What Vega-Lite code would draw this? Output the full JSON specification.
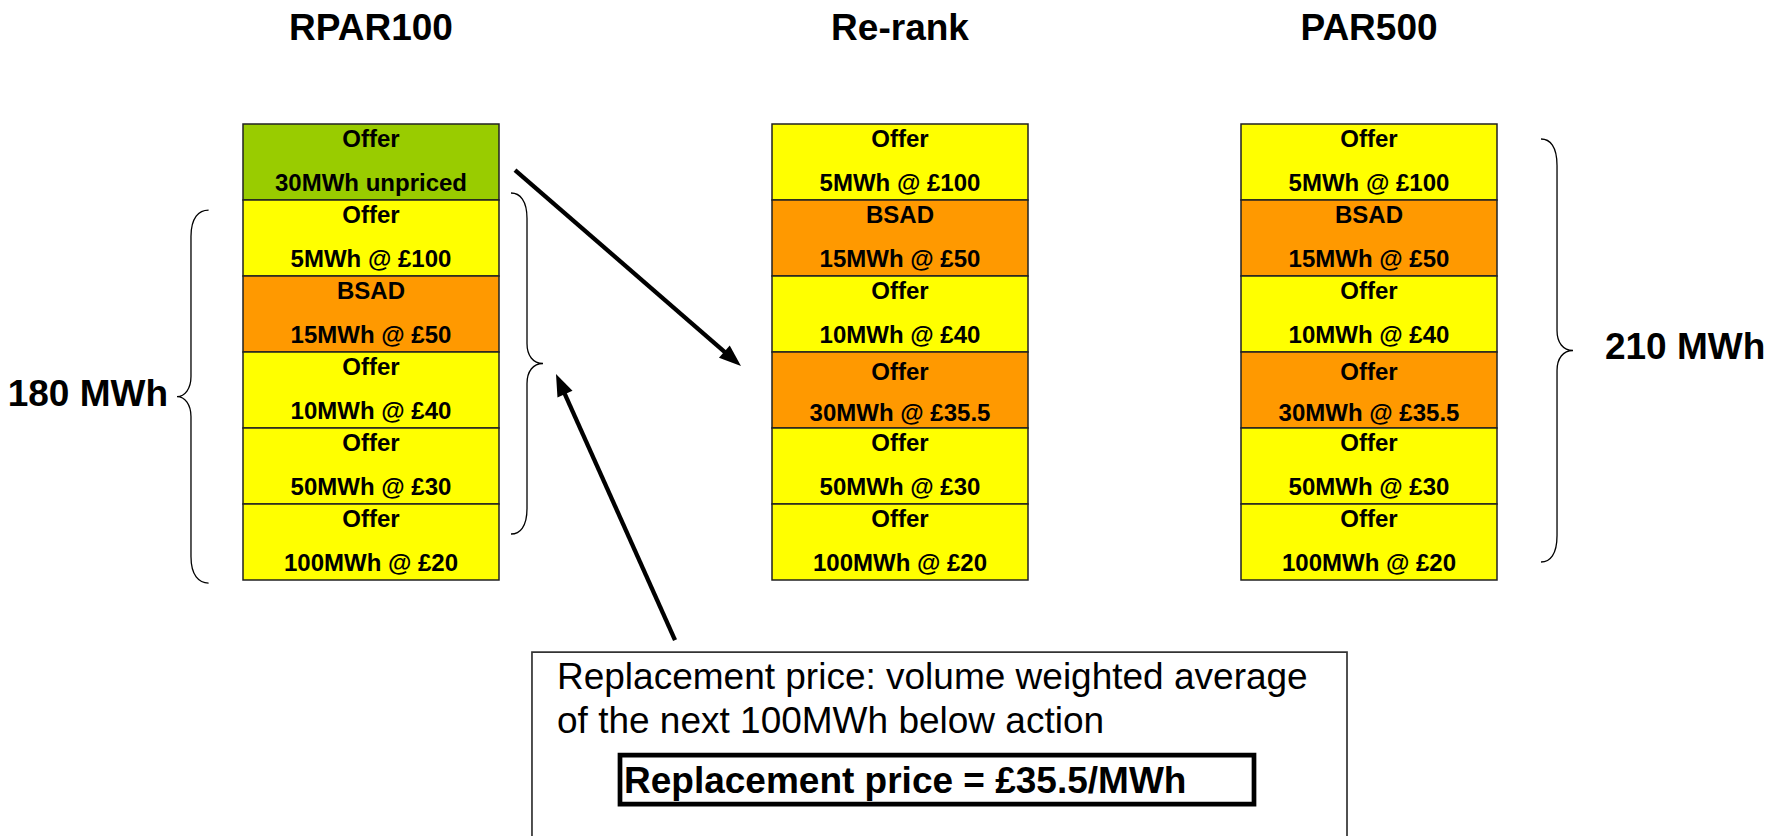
{
  "$schema": "https://vega.github.io/schema/vega-lite/v6.json",
  "width": 1770,
  "height": 836,
  "autosize": {"type": "fit", "contains": "padding"},
  "padding": 0,
  "background": "white",
  "config": {"view": {"stroke": null}, "font": "Liberation Sans"},
  "datasets": {
    "stacks": [
      {"stack": "RPAR100", "col": 1, "rank": 6, "type": "Offer", "volume": 30, "price": null, "label": "30MWh unpriced", "status": "Unpriced"},
      {"stack": "RPAR100", "col": 1, "rank": 5, "type": "Offer", "volume": 5, "price": 100, "label": "5MWh @ £100", "status": "Priced"},
      {"stack": "RPAR100", "col": 1, "rank": 4, "type": "BSAD", "volume": 15, "price": 50, "label": "15MWh @ £50", "status": "BSAD"},
      {"stack": "RPAR100", "col": 1, "rank": 3, "type": "Offer", "volume": 10, "price": 40, "label": "10MWh @ £40", "status": "Priced"},
      {"stack": "RPAR100", "col": 1, "rank": 2, "type": "Offer", "volume": 50, "price": 30, "label": "50MWh @ £30", "status": "Priced"},
      {"stack": "RPAR100", "col": 1, "rank": 1, "type": "Offer", "volume": 100, "price": 20, "label": "100MWh @ £20", "status": "Priced"},
      {"stack": "Re-rank", "col": 2, "rank": 6, "type": "Offer", "volume": 5, "price": 100, "label": "5MWh @ £100", "status": "Priced"},
      {"stack": "Re-rank", "col": 2, "rank": 5, "type": "BSAD", "volume": 15, "price": 50, "label": "15MWh @ £50", "status": "BSAD"},
      {"stack": "Re-rank", "col": 2, "rank": 4, "type": "Offer", "volume": 10, "price": 40, "label": "10MWh @ £40", "status": "Priced"},
      {"stack": "Re-rank", "col": 2, "rank": 3, "type": "Offer", "volume": 30, "price": 35.5, "label": "30MWh @ £35.5", "status": "Repriced"},
      {"stack": "Re-rank", "col": 2, "rank": 2, "type": "Offer", "volume": 50, "price": 30, "label": "50MWh @ £30", "status": "Priced"},
      {"stack": "Re-rank", "col": 2, "rank": 1, "type": "Offer", "volume": 100, "price": 20, "label": "100MWh @ £20", "status": "Priced"},
      {"stack": "PAR500", "col": 3, "rank": 6, "type": "Offer", "volume": 5, "price": 100, "label": "5MWh @ £100", "status": "Priced"},
      {"stack": "PAR500", "col": 3, "rank": 5, "type": "BSAD", "volume": 15, "price": 50, "label": "15MWh @ £50", "status": "BSAD"},
      {"stack": "PAR500", "col": 3, "rank": 4, "type": "Offer", "volume": 10, "price": 40, "label": "10MWh @ £40", "status": "Priced"},
      {"stack": "PAR500", "col": 3, "rank": 3, "type": "Offer", "volume": 30, "price": 35.5, "label": "30MWh @ £35.5", "status": "Repriced"},
      {"stack": "PAR500", "col": 3, "rank": 2, "type": "Offer", "volume": 50, "price": 30, "label": "50MWh @ £30", "status": "Priced"},
      {"stack": "PAR500", "col": 3, "rank": 1, "type": "Offer", "volume": 100, "price": 20, "label": "100MWh @ £20", "status": "Priced"}
    ],
    "braces": [
      {"brace": "180 MWh", "col": 0.6597, "rank": 2.914},
      {"brace": "100 MWh below action", "col": 1.2949, "rank": 3.349},
      {"brace": "210 MWh", "col": 3.4009, "rank": 3.52}
    ],
    "arrows": [
      {"arrow": "re-rank", "col": 1.2722, "rank": 5.8947},
      {"arrow": "re-rank", "col": 1.6711, "rank": 3.4868},
      {"arrow": "replacement", "col": 1.5747, "rank": -0.2895},
      {"arrow": "replacement", "col": 1.3648, "rank": 2.9737}
    ],
    "heads": [
      {"arrow": "re-rank", "col": 1.6994, "rank": 3.3158},
      {"arrow": "replacement", "col": 1.3497, "rank": 3.2105}
    ]
  },
  "encoding": {
    "x": {"field": "col", "type": "quantitative", "scale": {"domain": [1, 2, 3], "range": [371, 900, 1369], "zero": false, "nice": false}, "axis": null},
    "y": {"field": "rank", "type": "quantitative", "scale": {"domain": [-2.868, 8.132], "zero": false, "nice": false}, "axis": null}
  },
  "layer": [
    {
      "data": {"values": [{"note": "outer", "col": 1.3043, "col2": 2.9531, "rank": -0.4474, "rank2": -3.2}]},
      "mark": {"type": "rect", "fill": "white", "stroke": "#333333", "strokeWidth": 1.7, "clip": true},
      "encoding": {"x2": {"field": "col2"}, "y2": {"field": "rank2"}}
    },
    {
      "data": {"values": [{"note": "inner", "col": 1.4707, "col2": 2.7548, "rank": -1.8026, "rank2": -2.4474}]},
      "mark": {"type": "rect", "fill": "white", "stroke": "black", "strokeWidth": 4.7},
      "encoding": {"x2": {"field": "col2"}, "y2": {"field": "rank2"}}
    },
    {
      "data": {"name": "stacks"},
      "mark": {"type": "rect", "width": 256, "height": 76, "stroke": "#222222", "strokeWidth": 1.5},
      "encoding": {
        "fill": {"field": "status", "type": "nominal", "scale": {"domain": ["Unpriced", "Priced", "BSAD", "Repriced"], "range": ["#99CC00", "#FFFF00", "#FF9900", "#FF9900"]}, "legend": null}
      }
    },
    {
      "data": {"name": "stacks"},
      "transform": [{"filter": "datum.status != 'Repriced'"}],
      "mark": {"type": "text", "fontWeight": "bold", "fontSize": 24, "dy": -15, "baseline": "alphabetic", "align": "center", "color": "black"},
      "encoding": {"text": {"field": "type"}}
    },
    {
      "data": {"name": "stacks"},
      "transform": [{"filter": "datum.status != 'Repriced'"}],
      "mark": {"type": "text", "fontWeight": "bold", "fontSize": 24, "dy": 29, "baseline": "alphabetic", "align": "center", "color": "black"},
      "encoding": {"text": {"field": "label"}}
    },
    {
      "data": {"name": "stacks"},
      "transform": [{"filter": "datum.status == 'Repriced'"}],
      "mark": {"type": "text", "fontWeight": "bold", "fontSize": 24, "dy": -10.5, "baseline": "alphabetic", "align": "center", "color": "black"},
      "encoding": {"text": {"field": "type"}}
    },
    {
      "data": {"name": "stacks"},
      "transform": [{"filter": "datum.status == 'Repriced'"}],
      "mark": {"type": "text", "fontWeight": "bold", "fontSize": 24, "dy": 31, "baseline": "alphabetic", "align": "center", "color": "black"},
      "encoding": {"text": {"field": "label"}}
    },
    {
      "data": {"name": "stacks"},
      "transform": [{"filter": "datum.rank == 6"}],
      "mark": {"type": "text", "fontWeight": "bold", "fontSize": 37, "baseline": "alphabetic", "align": "center", "color": "black"},
      "encoding": {"y": {"datum": 7.605}, "text": {"field": "stack"}}
    },
    {
      "data": {"name": "braces"},
      "mark": {"type": "point", "filled": false, "size": 40000, "color": "black", "strokeWidth": 1.3, "opacity": 1},
      "encoding": {
        "shape": {"field": "brace", "type": "nominal", "legend": null, "scale": {
          "domain": ["180 MWh", "100 MWh below action", "210 MWh"],
          "range": [
            "M0.176,-1.865C0.08,-1.865,0,-1.79,0,-1.6L0,-0.2C0,-0.08,-0.06,0,-0.14,0C-0.06,0,0,0.08,0,0.2L0,1.6C0,1.79,0.08,1.865,0.176,1.865",
            "M-0.16,-1.705C-0.07,-1.705,0,-1.63,0,-1.45L0,-0.2C0,-0.08,0.06,0,0.16,0C0.06,0,0,0.08,0,0.2L0,1.45C0,1.63,-0.07,1.705,-0.16,1.705",
            "M-0.16,-2.115C-0.07,-2.115,0,-2.04,0,-1.85L0,-0.2C0,-0.08,0.06,0,0.16,0C0.06,0,0,0.08,0,0.2L0,1.85C0,2.04,-0.07,2.115,-0.16,2.115"
          ]}}
      }
    },
    {
      "data": {"name": "arrows"},
      "mark": {"type": "line", "color": "black", "strokeWidth": 4.3, "strokeCap": "butt"},
      "encoding": {"detail": {"field": "arrow"}}
    },
    {
      "data": {"name": "heads"},
      "transform": [{"filter": "datum.arrow == 're-rank'"}],
      "mark": {"type": "point", "shape": "M0,0L-2,-0.75L-2,0.75Z", "size": 484, "filled": true, "color": "black", "opacity": 1, "angle": 40.9}
    },
    {
      "data": {"name": "heads"},
      "transform": [{"filter": "datum.arrow == 'replacement'"}],
      "mark": {"type": "point", "shape": "M0,0L-2,-0.75L-2,0.75Z", "size": 484, "filled": true, "color": "black", "opacity": 1, "angle": 245.9}
    },
    {
      "data": {"values": [{"text": "180 MWh", "col": 0.6163, "rank": 2.789}]},
      "mark": {"type": "text", "fontWeight": "bold", "fontSize": 37, "baseline": "alphabetic", "align": "right", "color": "black"},
      "encoding": {"text": {"field": "text"}}
    },
    {
      "data": {"values": [{"text": "210 MWh", "col": 3.503, "rank": 3.408}]},
      "mark": {"type": "text", "fontWeight": "bold", "fontSize": 37, "baseline": "alphabetic", "align": "left", "color": "black"},
      "encoding": {"text": {"field": "text"}}
    },
    {
      "data": {"values": [
        {"text": "Replacement price: volume weighted average", "col": 1.3516, "rank": -0.9342},
        {"text": "of the next 100MWh below action", "col": 1.3516, "rank": -1.5132}
      ]},
      "mark": {"type": "text", "fontSize": 37, "baseline": "alphabetic", "align": "left", "color": "black"},
      "encoding": {"text": {"field": "text"}}
    },
    {
      "data": {"values": [{"text": "Replacement price = £35.5/MWh", "col": 1.4783, "rank": -2.3026}]},
      "mark": {"type": "text", "fontWeight": "bold", "fontSize": 37, "baseline": "alphabetic", "align": "left", "color": "black"},
      "encoding": {"text": {"field": "text"}}
    }
  ]
}
